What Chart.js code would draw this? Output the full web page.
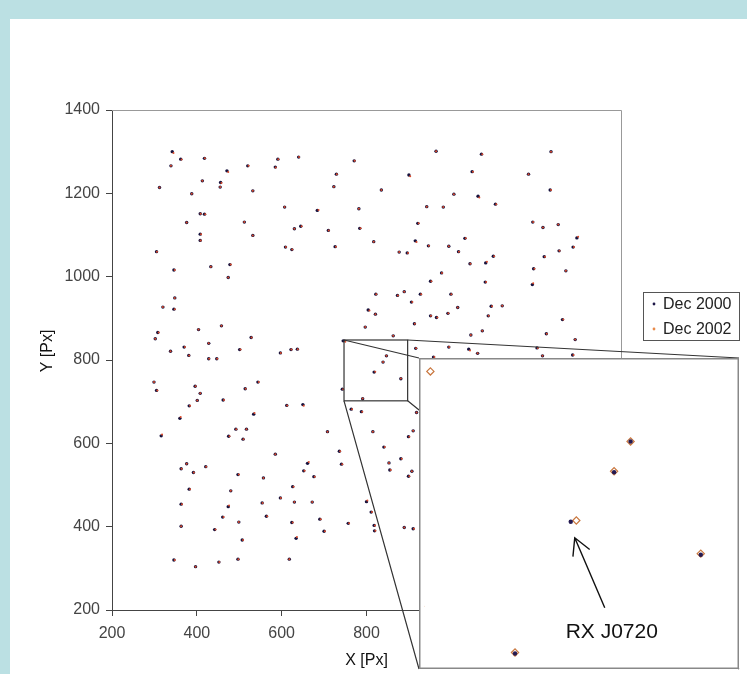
<!DOCTYPE html>
<html>
<head>
<meta charset="utf-8">
<script src="https://cdn.jsdelivr.net/npm/chart.js@4.4.1/dist/chart.umd.min.js"></script>
<style>
  body { margin: 0; width: 747px; height: 674px; overflow: hidden; position: relative; background: #bbe0e3; }
  #panel { position: absolute; left: 10px; top: 19px; right: 0; bottom: 0; background: #fff; }
  #main { position: absolute; left: 0; top: 0; }
  #zoom { position: absolute; left: 419px; top: 358px; }
</style>
</head>
<body>
<div id="panel"></div>
<canvas id="main" width="747" height="674"></canvas>
<canvas id="zoom" width="320" height="311"></canvas>
<script>
const seriesLabels = ["Dec 2000", "Dec 2002"];
const xTitle = "X [Px]";
const yTitle = "Y [Px]";
const axisRange = [200, 1400];
const tickStep = 200;

// zoomed window (data units) shown in the inset
const zoomX = [747, 897];
const zoomY = [702, 848];
const annotation = { text: "RX J0720", x: 818, y: 771 };

// star positions, Dec 2000 epoch
const dec2000 = [
  [342,1300],[362,1282],[418,1284],[339,1266],[471,1254],[520,1266],[591,1282],[585,1263],
  [312,1214],[413,1230],[456,1226],[455,1215],[532,1206],[388,1199],[408,1151],[418,1150],
  [376,1130],[512,1131],[532,1099],[408,1102],[408,1087],[305,1060],[346,1016],[433,1024],
  [478,1029],[474,998],[348,949],[320,927],[346,922],[308,866],[302,851],[404,873],
  [458,882],[428,840],[528,854],[338,821],[370,831],[381,811],[501,825],[428,803],
  [447,803],[597,817],
  [640,1287],[771,1278],[964,1301],[729,1246],[723,1216],[900,1244],[835,1208],[607,1167],
  [684,1159],[782,1163],[942,1168],[981,1167],[630,1115],[645,1121],[710,1111],[784,1116],
  [921,1128],[609,1071],[624,1065],[726,1072],[817,1084],[915,1086],[877,1059],[896,1057],
  [946,1074],[994,1073],[977,1009],[951,989],[822,958],[873,955],[889,964],[927,958],
  [999,958],[906,939],[804,920],[821,910],[951,906],[965,902],[992,912],[913,887],
  [797,879],[863,858],[622,825],[637,826],[916,828],[994,831],[847,810],[958,807],
  [1071,1294],[1235,1300],[1049,1252],[1182,1246],[1006,1198],[1063,1193],[1104,1174],[1233,1208],
  [1192,1131],[1216,1118],[1252,1125],[1296,1093],[1032,1092],[1017,1060],[1044,1031],[1081,1033],
  [1099,1049],[1219,1048],[1254,1062],[1287,1071],[1194,1019],[1270,1014],[1191,981],[1080,987],
  [1015,926],[1094,929],[1120,930],[1087,906],[1262,897],[1046,860],[1073,870],[1224,863],
  [1292,849],[1041,826],[1062,816],[1215,810],[1286,812],[1202,829],
  [299,747],[305,727],[396,737],[408,720],[401,703],[382,690],[462,704],[514,731],
  [544,747],[534,670],[360,660],[492,634],[517,634],[475,617],[509,610],[316,618],
  [585,574],[376,551],[363,539],[392,530],[421,544],[497,525],[557,517],[382,490],
  [480,486],[363,454],[474,448],[554,457],[597,469],[461,423],[564,425],[499,411],
  [363,401],[442,393],[507,368],[346,320],[397,304],[452,315],[497,322],
  [839,795],[818,771],[881,755],[743,730],[791,707],[745,846],
  [612,691],[650,693],[764,682],[788,676],[708,628],[815,628],[841,591],[910,630],
  [899,616],[736,581],[661,552],[652,534],[676,520],[741,550],[853,553],[881,563],
  [855,536],[907,533],[899,521],[626,496],[630,459],[672,459],[800,460],[811,435],
  [624,410],[690,418],[700,389],[757,408],[818,403],[819,390],[889,398],[910,395],
  [634,372],[618,322],[918,674]
];

// the same stars, Dec 2002 epoch
const dec2002 = [
  [345,1297],[364,1281],[419,1284],[339,1266],[474,1251],[522,1266],[592,1282],[586,1262],
  [312,1214],[413,1230],[458,1225],[455,1215],[532,1206],[388,1199],[409,1151],[420,1150],
  [376,1130],[512,1131],[532,1099],[410,1102],[409,1087],[306,1060],[348,1016],[433,1024],
  [480,1029],[474,998],[348,949],[320,927],[348,922],[310,866],[302,851],[404,873],
  [458,882],[428,840],[529,854],[338,821],[372,831],[382,811],[503,825],[429,803],
  [448,803],[598,817],
  [641,1287],[772,1278],[964,1301],[730,1246],[723,1216],[903,1241],[835,1208],[607,1167],
  [687,1160],[782,1163],[942,1168],[981,1167],[630,1115],[647,1121],[711,1111],[786,1116],
  [923,1128],[610,1071],[625,1065],[728,1072],[817,1084],[918,1083],[877,1059],[898,1057],
  [947,1074],[994,1073],[978,1009],[953,989],[823,958],[874,955],[889,964],[929,958],
  [1000,958],[908,939],[807,919],[821,910],[952,906],[967,902],[993,912],[914,887],
  [797,879],[863,858],[623,825],[638,826],[917,828],[995,831],[847,810],[960,807],
  [1073,1294],[1235,1300],[1051,1252],[1182,1246],[1006,1198],[1066,1190],[1106,1174],[1235,1208],
  [1193,1131],[1216,1118],[1252,1125],[1299,1096],[1034,1092],[1018,1060],[1045,1031],[1084,1036],
  [1101,1049],[1221,1048],[1255,1062],[1289,1071],[1196,1019],[1270,1014],[1193,984],[1082,987],
  [1015,926],[1096,929],[1120,930],[1088,906],[1264,897],[1046,860],[1073,870],[1225,863],
  [1292,849],[1044,823],[1062,816],[1215,810],[1288,812],[1204,829],
  [299,747],[307,727],[397,737],[408,720],[401,703],[384,690],[464,704],[515,731],
  [546,747],[536,673],[362,663],[493,634],[517,634],[477,617],[510,610],[318,621],
  [585,574],[376,551],[364,539],[393,530],[422,544],[499,525],[557,517],[384,490],
  [480,486],[365,454],[476,451],[555,457],[598,469],[463,423],[566,425],[499,411],
  [363,401],[444,393],[509,368],[348,320],[397,304],[453,315],[498,322],
  [839,795.5],[820.7,771.6],[881,755.5],[745,730],[791,707.5],[750,844],
  [613,691],[652,690],[766,682],[790,676],[708,628],[815,628],[843,591],[910,630],
  [901,616],[738,581],[664,555],[654,534],[678,520],[743,550],[853,553],[883,563],
  [857,536],[907,533],[901,521],[628,496],[630,459],[672,459],[802,463],[813,435],
  [626,410],[692,418],[702,389],[759,408],[820,403],[821,390],[889,398],[912,395],
  [636,375],[618,322],[918,674]
];

const fontFamily = "'Liberation Sans', Arial, sans-serif";
Chart.defaults.font.family = fontFamily;
Chart.defaults.font.size = 16;
Chart.defaults.color = "#444";

const toPoints = (arr) => arr.map(([x, y]) => ({ x, y }));
const zoomCanvas = document.getElementById("zoom");

// frame, y title, legend, zoom box + connectors
const mainDecor = {
  id: "mainDecor",
  afterDraw(chart) {
    const { ctx, chartArea: a, scales } = chart;
    ctx.save();
    ctx.strokeStyle = "#999";
    ctx.lineWidth = 1;
    ctx.beginPath();
    ctx.moveTo(a.left, a.top + 0.5);
    ctx.lineTo(a.right + 0.5, a.top + 0.5);
    ctx.lineTo(a.right + 0.5, a.bottom);
    ctx.stroke();

    ctx.fillStyle = "#111";
    ctx.font = "16px " + fontFamily;
    ctx.textAlign = "center";
    ctx.textBaseline = "middle";
    ctx.translate(48, 351);
    ctx.rotate(-Math.PI / 2);
    ctx.fillText(yTitle, 0, 0);
    ctx.restore();

    // legend
    ctx.save();
    ctx.fillStyle = "#fff";
    ctx.fillRect(643, 292, 97, 49);
    ctx.strokeStyle = "#555";
    ctx.strokeRect(643.5, 292.5, 96, 48);
    ctx.font = "16px " + fontFamily;
    ctx.textBaseline = "middle";
    chart.data.datasets.forEach((ds, i) => {
      const y = 304 + i * 25;
      ctx.fillStyle = ds.legendColor;
      ctx.beginPath();
      ctx.arc(654, y, 1.4, 0, Math.PI * 2);
      ctx.fill();
      ctx.fillStyle = "#222";
      ctx.fillText(ds.label, 663, y + 1);
    });
    ctx.restore();

    // zoom source box and connector lines
    const x0 = scales.x.getPixelForValue(zoomX[0]);
    const x1 = scales.x.getPixelForValue(zoomX[1]);
    const y0 = scales.y.getPixelForValue(zoomY[1]);
    const y1 = scales.y.getPixelForValue(zoomY[0]);
    const bx0 = zoomCanvas.offsetLeft, by0 = zoomCanvas.offsetTop;
    const bx1 = bx0 + zoomCanvas.width, by1 = by0 + zoomCanvas.height;
    ctx.save();
    ctx.strokeStyle = "#333";
    ctx.lineWidth = 1.2;
    ctx.strokeRect(x0, y0, x1 - x0, y1 - y0);
    ctx.beginPath();
    ctx.moveTo(x0, y0); ctx.lineTo(bx0, by0);
    ctx.moveTo(x1, y0); ctx.lineTo(bx1, by0);
    ctx.moveTo(x0, y1); ctx.lineTo(bx0, by1);
    ctx.moveTo(x1, y1); ctx.lineTo(bx1, by1);
    ctx.stroke();
    ctx.restore();
  },
};

new Chart(document.getElementById("main"), {
  type: "scatter",
  data: {
    datasets: [
      {
        label: seriesLabels[0],
        data: toPoints(dec2000),
        pointBackgroundColor: "#17123d",
        legendColor: "#1d1747",
        pointRadius: 1.7,
        pointBorderWidth: 0,
        order: 1,
      },
      {
        label: seriesLabels[1],
        data: toPoints(dec2002),
        pointBackgroundColor: "#dc4a2a",
        legendColor: "#e88a4a",
        pointRadius: 1.0,
        pointBorderWidth: 0,
        order: 0,
      },
    ],
  },
  options: {
    responsive: false,
    animation: false,
    devicePixelRatio: 1,
    layout: { padding: { left: 37, top: 110, right: 126, bottom: 4 } },
    plugins: { legend: { display: false }, tooltip: { enabled: false } },
    scales: {
      x: {
        type: "linear",
        min: axisRange[0],
        max: axisRange[1],
        ticks: { stepSize: tickStep, padding: 8, color: "#444", callback: (v) => String(v) },
        grid: { drawOnChartArea: false, tickLength: 6, color: "#444" },
        border: { color: "#444" },
        title: { display: true, text: xTitle, color: "#111", padding: 0 },
        afterFit: (s) => { s.height = 60; },
      },
      y: {
        type: "linear",
        min: axisRange[0],
        max: axisRange[1],
        ticks: { stepSize: tickStep, padding: 6, color: "#444", callback: (v) => String(v) },
        grid: { drawOnChartArea: false, tickLength: 6, color: "#444" },
        border: { color: "#444" },
        afterFit: (s) => { s.width = 75; },
      },
    },
  },
  plugins: [mainDecor],
});

// inset: white box, border, arrow + label
const insetDecor = {
  id: "insetDecor",
  beforeDraw(chart) {
    const { ctx, width, height } = chart;
    ctx.save();
    ctx.fillStyle = "#fff";
    ctx.fillRect(0, 0, width, height);
    ctx.restore();
  },
  afterDraw(chart) {
    const { ctx, width, height, scales } = chart;
    ctx.save();
    ctx.strokeStyle = "#888";
    ctx.lineWidth = 1.5;
    ctx.strokeRect(0.75, 0.75, width - 1.5, height - 1.5);

    const px = scales.x.getPixelForValue(annotation.x);
    const py = scales.y.getPixelForValue(annotation.y);
    const tipX = px + 4, tipY = py + 16;
    const tailX = px + 34, tailY = py + 86;
    const ang = Math.atan2(tailY - tipY, tailX - tipX);
    ctx.strokeStyle = "#111";
    ctx.lineWidth = 1.4;
    ctx.beginPath();
    ctx.moveTo(tailX, tailY);
    ctx.lineTo(tipX, tipY);
    ctx.moveTo(tipX + 19 * Math.cos(ang - 0.5), tipY + 19 * Math.sin(ang - 0.5));
    ctx.lineTo(tipX, tipY);
    ctx.lineTo(tipX + 19 * Math.cos(ang + 0.5), tipY + 19 * Math.sin(ang + 0.5));
    ctx.stroke();

    ctx.fillStyle = "#111";
    ctx.font = "21px " + fontFamily;
    ctx.textAlign = "center";
    ctx.textBaseline = "middle";
    ctx.fillText(annotation.text, px + 41, py + 110);
    ctx.restore();
  },
};

new Chart(zoomCanvas, {
  type: "scatter",
  data: {
    datasets: [
      {
        label: seriesLabels[0],
        data: toPoints(dec2000),
        pointBackgroundColor: "#241a52",
        pointRadius: 2.2,
        pointBorderWidth: 0,
      },
      {
        label: seriesLabels[1],
        data: toPoints(dec2002),
        pointStyle: "rectRot",
        pointBackgroundColor: "rgba(0,0,0,0)",
        pointBorderColor: "#c9773f",
        pointBorderWidth: 1.2,
        pointRadius: 3.6,
      },
    ],
  },
  options: {
    responsive: false,
    animation: false,
    devicePixelRatio: 1,
    layout: { padding: 0 },
    plugins: { legend: { display: false }, tooltip: { enabled: false } },
    scales: {
      x: { type: "linear", display: false, min: zoomX[0], max: zoomX[1] },
      y: { type: "linear", display: false, min: zoomY[0], max: zoomY[1] },
    },
  },
  plugins: [insetDecor],
});
</script>
</body>
</html>
